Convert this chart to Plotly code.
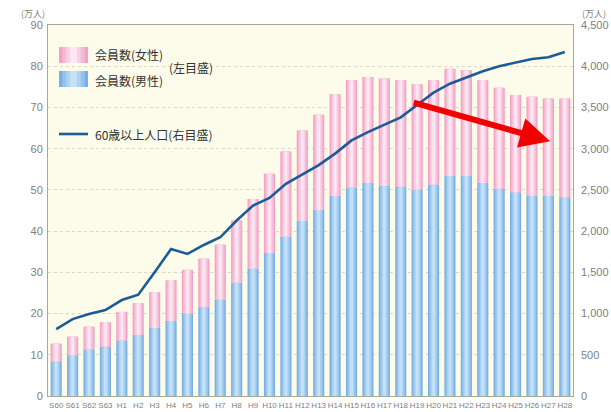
import plotly.graph_objects as go

# Fiscal years (Showa 60 - Heisei 28)
years = ["S60", "S61", "S62", "S63"] + [f"H{i}" for i in range(1, 29)]

# Members (10k persons), male and female
male = [8.4, 9.9, 11.3, 12.0, 13.5, 14.8, 16.5, 18.2, 20.0, 21.6, 23.4, 27.5,
        30.9, 34.7, 38.7, 42.5, 45.1, 48.5, 50.6, 51.7, 51.0, 50.8, 50.1, 51.3,
        53.4, 53.4, 51.7, 50.3, 49.4, 48.6, 48.6, 48.2]
female = [4.3, 4.5, 5.5, 5.9, 6.9, 7.7, 8.7, 9.9, 10.6, 11.7, 13.3, 15.1,
          16.9, 19.2, 20.6, 21.9, 23.1, 24.7, 26.0, 25.7, 26.0, 25.8, 25.5, 25.3,
          26.0, 25.6, 24.9, 24.5, 23.6, 24.0, 23.6, 24.0]

# Population aged 60 and over (10k persons), right axis
pop60 = [812, 933, 994, 1043, 1164, 1229, 1500, 1783, 1723, 1832, 1925, 2128,
         2310, 2403, 2573, 2690, 2800, 2940, 3100, 3200, 3292, 3380, 3530, 3680,
         3788, 3868, 3940, 4000, 4040, 4088, 4108, 4172]

left_ticks = list(range(0, 91, 10))
right_ticks = list(range(0, 4501, 500))

W, H = 611, 412
PL, PR, PT, PB = 48, 573, 25, 396


def px(x):
    return (x - PL) / (PR - PL)


def py(y):
    return (PB - y) / (PB - PT)


# shading bands for a cylinder-like fill: (width fraction, color)
blue_bands = [(0.68, "#7AAFE2"), (0.52, "#93C2EC"), (0.34, "#ADD3F4"), (0.16, "#C4E1F9")]
pink_bands = [(0.68, "#F2A2C4"), (0.52, "#F6BAD6"), (0.34, "#FAD1E4"), (0.16, "#FDE7F2")]

fig = go.Figure()
for w, c in blue_bands:
    fig.add_trace(go.Bar(x=years, y=male, width=w, marker=dict(color=c, line=dict(width=0)),
                         showlegend=False, hoverinfo="skip"))
for w, c in pink_bands:
    fig.add_trace(go.Bar(x=years, y=female, base=male, width=w,
                         marker=dict(color=c, line=dict(width=0)),
                         showlegend=False, hoverinfo="skip"))

fig.add_trace(go.Scatter(x=years, y=pop60, mode="lines", yaxis="y2",
                         line=dict(color="#1D5B98", width=2.6), showlegend=False))

# downward trend arrow over recent membership
fig.add_annotation(x=30.1, y=61.8, ax=21.7, ay=71.3, xref="x", yref="y",
                   axref="x", ayref="y", text="", showarrow=True,
                   arrowhead=2, arrowsize=1.0, arrowwidth=6, arrowcolor="#F20000")

shapes = []
# legend swatches
for top, bands in ((47, pink_bands), (71, blue_bands)):
    x0, x1 = 59, 88
    cx = (x0 + x1) / 2
    for w, c in bands:
        half = (x1 - x0) / 2 * w / 0.68
        shapes.append(dict(type="rect", xref="paper", yref="paper",
                           x0=px(cx - half), x1=px(cx + half), y0=py(top + 16), y1=py(top),
                           fillcolor=c, line=dict(width=0), layer="above"))
shapes.append(dict(type="line", xref="paper", yref="paper", x0=px(59), x1=px(88),
                   y0=py(134), y1=py(134), line=dict(color="#1D5B98", width=2.6)))

lg_font = dict(family="Noto Sans CJK JP", size=12, color="#333333")
legend_texts = [("会員数(女性)", 93, 55), ("会員数(男性)", 93, 80),
                ("(左目盛)", 167, 67), ("60歳以上人口(右目盛)", 93, 134)]
for t, x, y in legend_texts:
    fig.add_annotation(text=t, xref="paper", yref="paper", x=px(x), y=py(y),
                       xanchor="left", yanchor="middle", showarrow=False, font=lg_font)

unit_font = dict(family="Noto Sans CJK JP", size=9, color="#808080")
fig.add_annotation(text="(万人)", xref="paper", yref="paper", x=px(47), y=py(13),
                   xanchor="right", yanchor="middle", showarrow=False, font=unit_font)
fig.add_annotation(text="(万人)", xref="paper", yref="paper", x=px(580), y=py(13),
                   xanchor="left", yanchor="middle", showarrow=False, font=unit_font)

tick_font = dict(family="Liberation Sans", size=11, color="#808080")
fig.update_layout(
    width=W, height=H,
    margin=dict(l=PL, r=W - PR, t=PT, b=H - PB, autoexpand=False),
    paper_bgcolor="white", plot_bgcolor="#FDFCEA",
    barmode="overlay", bargap=0.3,
    showlegend=False,
    shapes=shapes,
    xaxis=dict(type="category", tickfont=dict(family="Liberation Sans Narrow, Liberation Sans", size=8, color="#808080"),
               tickangle=0, showline=True, linecolor="#A8A8A0", linewidth=1, mirror=True,
               showgrid=False, ticks="", ticklabelstandoff=1),
    yaxis=dict(range=[0, 90], tickvals=left_ticks, tickfont=tick_font,
               showgrid=True, gridcolor="#D8D8C6", griddash="dot", gridwidth=1,
               showline=True, linecolor="#A8A8A0", linewidth=1, mirror=True,
               zeroline=False, ticks="", ticklabelstandoff=2),
    yaxis2=dict(range=[0, 4500], tickvals=right_ticks, tickformat=",d", tickfont=tick_font,
                overlaying="y", side="right", showgrid=False, zeroline=False,
                showline=False, ticks="", ticklabelstandoff=7),
)

fig.write_html("out.html")
